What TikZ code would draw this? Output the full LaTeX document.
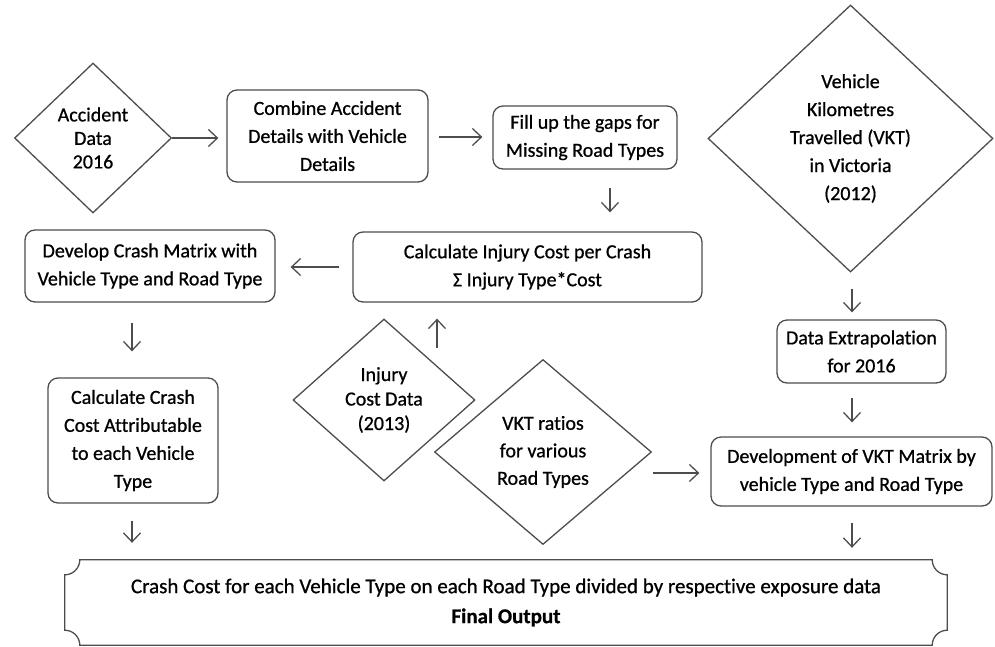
\documentclass[tikz,border=0pt]{standalone}
\usepackage{fontspec}
\setmainfont{Carlito}[Ligatures=NoCommon, FakeBold=0.8]
\usetikzlibrary{shapes.geometric,arrows.meta,calc}
\definecolor{ln}{HTML}{4D4D4D}
\begin{document}
\begin{tikzpicture}[x=1pt,y=-1pt,
  every node/.style={font=\fontsize{20}{28}\selectfont, text=black},
  rbox/.style={draw=ln, line width=1.3pt, rounded corners=10pt, align=center, inner sep=0pt},
  dbox/.style={draw=ln, line width=1.3pt, diamond, align=center, inner sep=0pt},
  arr/.style={draw=ln, line width=1.3pt, -{Straight Barb[length=9pt,width=17pt,line width=1.3pt]}}
]
\useasboundingbox (0,0) rectangle (995,646);
% nodes
\node[dbox, minimum width=157pt, minimum height=150pt, font=\fontsize{20}{23.5}\selectfont] (acc) at (93,138) {Accident\\Data\\2016};
\node[rbox, minimum width=201pt, minimum height=92pt] (comb) at (327.5,136) {Combine Accident\\Details with Vehicle\\Details};
\node[rbox, minimum width=184pt, minimum height=63pt] (fill) at (585,137.5) {Fill up the gaps for\\Missing Road Types};
\node[rbox, minimum width=349pt, minimum height=70pt] (inj) at (527.5,267) {Calculate Injury Cost per Crash\\Σ Injury Type*Cost};
\node[rbox, minimum width=250pt, minimum height=72pt] (dev) at (150,266) {Develop Crash Matrix with\\Vehicle Type and Road Type};
\node[rbox, minimum width=170pt, minimum height=125pt] (calc) at (133,440.5) {Calculate Crash\\Cost Attributable\\to each Vehicle\\Type};
\node[dbox, minimum width=182pt, minimum height=162pt, font=\fontsize{20}{24.5}\selectfont] (icd) at (384,400) {Injury\\Cost Data\\(2013)};
\node[dbox, minimum width=217pt, minimum height=185pt, font=\fontsize{20}{27.5}\selectfont] (vr) at (543,452) {VKT ratios\\for various\\Road Types};
\node[dbox, minimum width=285pt, minimum height=267pt] (vkt) at (850.5,138.5) {Vehicle\\Kilometres\\Travelled (VKT)\\in Victoria\\(2012)};
\node[rbox, minimum width=169pt, minimum height=63pt] (ext) at (861.5,351.5) {Data Extrapolation\\for 2016};
\node[rbox, minimum width=281pt, minimum height=69pt] (vm) at (851.5,471.5) {Development of VKT Matrix by\\vehicle Type and Road Type};
\node[minimum width=882pt, minimum height=85pt, align=center, inner sep=0pt, font=\fontsize{21}{30}\selectfont] (out) at (506,602.5) {Crash Cost for each Vehicle Type on each Road Type divided by respective exposure data\\\textbf{Final Output}};
% plaque outline of final output
\def\r{15}
\draw[ln, line width=1.3pt]
  ($(out.north west)+(0,\r)$) .. controls ($(out.north west)+(0.552*\r,\r)$) and ($(out.north west)+(\r,0.552*\r)$) .. ($(out.north west)+(\r,0)$)
  -- ($(out.north east)+(-\r,0)$) .. controls ($(out.north east)+(-\r,0.552*\r)$) and ($(out.north east)+(-0.552*\r,\r)$) .. ($(out.north east)+(0,\r)$)
  -- ($(out.south east)+(0,-\r)$) .. controls ($(out.south east)+(-0.552*\r,-\r)$) and ($(out.south east)+(-\r,-0.552*\r)$) .. ($(out.south east)+(-\r,0)$)
  -- ($(out.south west)+(\r,0)$) .. controls ($(out.south west)+(\r,-0.552*\r)$) and ($(out.south west)+(0.552*\r,-\r)$) .. ($(out.south west)+(0,-\r)$)
  -- cycle;
% connector x/y guides
\coordinate (x1) at (610,0);
\coordinate (x2) at (132,0);
\coordinate (x3) at (437,0);
\coordinate (x4) at (852,0);
\coordinate (y1) at (0,137);
\coordinate (y2) at (0,473);
\coordinate (s3) at (437,348);
% arrows
\draw[arr, shorten >=8pt] (acc.east) -- (comb.west |- acc.east);
\draw[arr, shorten <=10pt, shorten >=10pt] (comb.east |- y1) -- (fill.west |- y1);
\draw[arr, shorten <=18pt, shorten >=19pt] (fill.south -| x1) -- (inj.north -| x1);
\draw[arr, shorten <=13pt, shorten >=15pt] (inj.west) -- (dev.east |- inj.west);
\draw[arr, shorten <=20pt, shorten >=26pt] (dev.south -| x2) -- (calc.north -| x2);
\draw[arr, shorten <=17pt, shorten >=17pt] (calc.south -| x2) -- (out.north -| x2);
\draw[arr, shorten >=16pt] (s3) -- (inj.south -| s3);
\draw[arr, shorten <=1pt, shorten >=11pt] (vr.east |- y2) -- (vm.west |- y2);
\draw[arr, shorten <=16pt, shorten >=7pt] (vkt.south -| x4) -- (ext.north -| x4);
\draw[arr, shorten <=14pt, shorten >=14pt] (ext.south -| x4) -- (vm.north -| x4);
\draw[arr, shorten <=16pt, shorten >=12pt] (vm.south -| x4) -- (out.north -| x4);
\end{tikzpicture}
\end{document}
